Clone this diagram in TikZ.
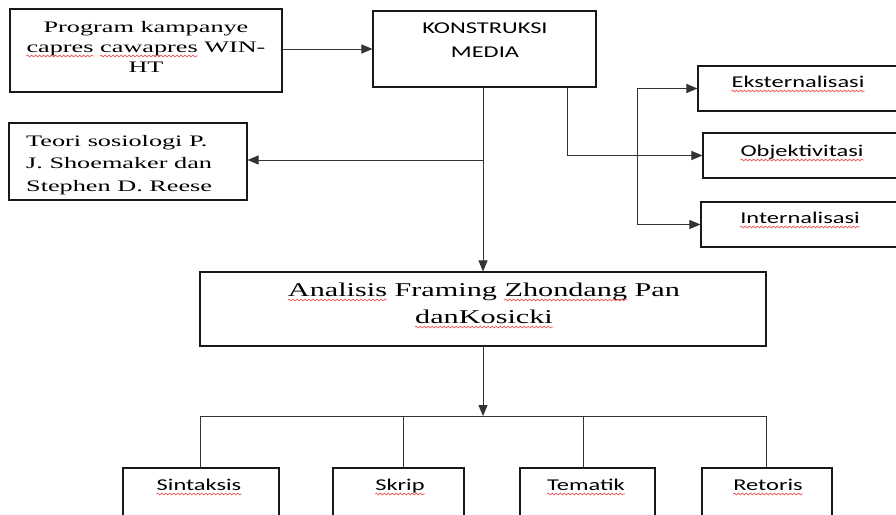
\documentclass[tikz,border=0pt]{standalone}
\usepackage{fontspec}
\usetikzlibrary{arrows.meta,decorations.pathmorphing}
\newfontfamily\serA{Liberation Serif}[FakeStretch=1.64]
\newfontfamily\serB{Liberation Serif}[FakeStretch=1.55]
\newfontfamily\sanA{Carlito}[FakeStretch=1.48]
\newcommand\fS{\serA\fontsize{16}{20}\selectfont}
\newcommand\fL{\serB\fontsize{19.5}{27}\selectfont}
\newcommand\fC{\sanA\fontsize{16.5}{20}\selectfont}
\definecolor{sqred}{RGB}{238,85,85}
\newlength\wCapA
\newlength\wCapB
\newlength\wCawB
\newlength\wAnaB
\newlength\wZhoA
\newlength\wZhoB
\begin{document}
\settowidth{\wCapB}{\fS capres}%
\settowidth{\wCapA}{\fS capres }%
\settowidth{\wCawB}{\fS capres cawapres}%
\settowidth{\wAnaB}{\fL Analisis}%
\settowidth{\wZhoA}{\fL Analisis Framing }%
\settowidth{\wZhoB}{\fL Analisis Framing Zhondang}%
\begin{tikzpicture}[x=1pt,y=-1pt,
  box/.style={draw=black!90, line width=1.1pt, inner sep=0pt},
  conn/.style={draw=black!80, line width=1pt},
  arr/.style={conn, -{Triangle[length=11pt,width=9pt]}},
  sq/.style={draw=sqred, line width=0.7pt, decorate, decoration={snake, amplitude=0.9pt, segment length=4pt}},
  tS/.style={font=\fS, inner sep=0pt, anchor=base},
  tL/.style={font=\fL, inner sep=0pt, anchor=base},
  tC/.style={font=\fC, inner sep=0pt, anchor=base}]
\useasboundingbox (0,0) rectangle (896,514);
\clip (0,0) rectangle (896,514);
\fill[white] (0,0) rectangle (896,514);

% boxes
\node[box, minimum width=272pt, minimum height=83pt] (prog) at (146,50.5) {};
\node[box, minimum width=223pt, minimum height=76pt] (kon) at (484.5,49) {};
\node[box, minimum width=238pt, minimum height=77pt] (teori) at (128,161.5) {};
\node[box, minimum width=202pt, minimum height=45pt] (eks) at (799,88.5) {};
\node[box, minimum width=197pt, minimum height=45pt] (obj) at (801.5,155.5) {};
\node[box, minimum width=199pt, minimum height=45pt] (int) at (800.5,224.5) {};
\node[box, minimum width=566pt, minimum height=74pt] (an) at (483,309) {};
\node[box, minimum width=156pt, minimum height=72pt] (sin) at (201,504) {};
\node[box, minimum width=131pt, minimum height=72pt] (skr) at (398.5,504) {};
\node[box, minimum width=135pt, minimum height=72pt] (tem) at (587.5,504) {};
\node[box, minimum width=130pt, minimum height=72pt] (ret) at (767,504) {};

% texts
\node[tS] (progA) at (146,32) {Program kampanye};
\node[tS] (progB) at (146,52) {capres cawapres WIN-};
\node[tS] (progC) at (146,72) {HT};
\node[tC] (konA) at (485,33) {KONSTRUKSI};
\node[tC] (konB) at (485,57) {MEDIA};
\node[tS, anchor=base west] (teoA) at (26,146) {Teori sosiologi P.};
\node[tS, anchor=base west] (teoB) at (26,168.5) {J. Shoemaker dan};
\node[tS, anchor=base west] (teoC) at (26,191) {Stephen D. Reese};
\node[tC] (eksT) at (798,87) {Eksternalisasi};
\node[tC] (objT) at (802,156) {Objektivitasi};
\node[tC] (intT) at (800,223) {Internalisasi};
\node[tL] (anA) at (484,296) {Analisis Framing Zhondang Pan};
\node[tL] (anB) at (484,323) {danKosicki};
\node[tC] (sinT) at (199,490) {Sintaksis};
\node[tC] (skrT) at (400,490) {Skrip};
\node[tC] (temT) at (586,490) {Tematik};
\node[tC] (retT) at (768,490) {Retoris};

% spell-check squiggles
\foreach \n in {eksT,objT,intT,anB,sinT,skrT,temT,retT}
  \path[sq] ([yshift=-4pt]\n.base west) -- ([yshift=-4pt]\n.base east);
\path[sq] ([yshift=-4pt]progB.base west) -- ([xshift=\wCapB,yshift=-4pt]progB.base west);
\path[sq] ([xshift=\wCapA,yshift=-4pt]progB.base west) -- ([xshift=\wCawB,yshift=-4pt]progB.base west);
\path[sq] ([yshift=-4pt]anA.base west) -- ([xshift=\wAnaB,yshift=-4pt]anA.base west);
\path[sq] ([xshift=\wZhoA,yshift=-4pt]anA.base west) -- ([xshift=\wZhoB,yshift=-4pt]anA.base west);

% connectors
\coordinate (jL) at (483,160);
\coordinate (jR) at (567,155);
\coordinate (bx) at (637,0);
\coordinate (bar) at (483,416);

\draw[arr] (prog.east |- kon.west) -- (kon.west);
\draw[arr] (kon.south -| jL) -- (an.north -| jL);
\draw[arr] (jL) -- (jL -| teori.east);
\draw[arr] (kon.south -| jR) |- (obj.west);
\draw[arr] (eks.west -| bx) -- (eks.west);
\draw[conn] (eks.west -| bx) -- (int.west -| bx);
\draw[arr] (int.west -| bx) -- (int.west);
\draw[arr] (an.south -| bar) -- (bar);
\draw[conn] ([xshift=-1pt]sin.north) -- ([xshift=-1pt]sin.north |- bar) -- ([xshift=-1pt]ret.north |- bar) -- ([xshift=-1pt]ret.north);
\draw[conn] ([xshift=4.5pt]skr.north) -- ([xshift=4.5pt]skr.north |- bar);
\draw[conn] ([xshift=-4.5pt]tem.north) -- ([xshift=-4.5pt]tem.north |- bar);
\end{tikzpicture}
\end{document}
